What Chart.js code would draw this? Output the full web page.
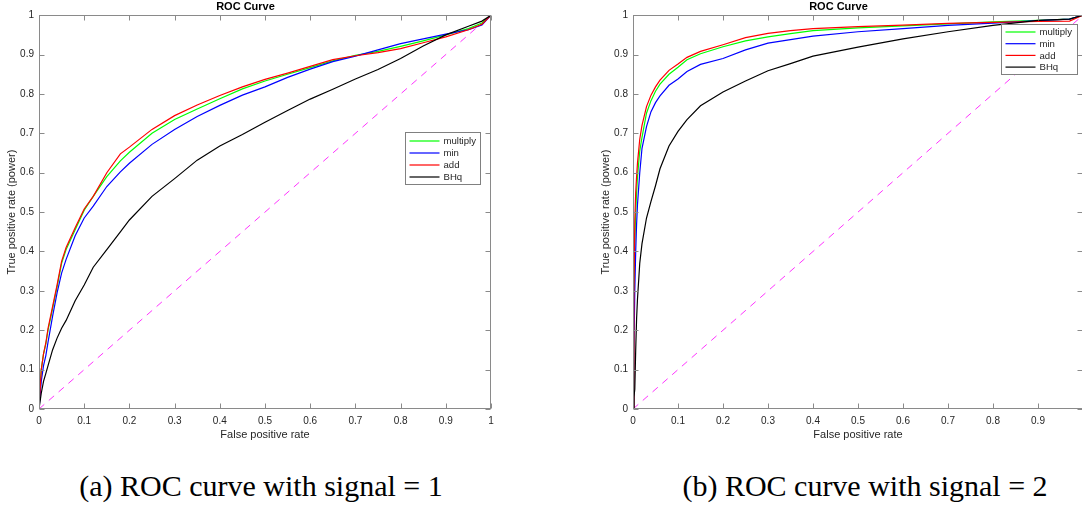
<!DOCTYPE html>
<html><head><meta charset="utf-8">
<script src="https://cdn.jsdelivr.net/npm/chart.js@4.4.1/dist/chart.umd.min.js"></script>
<style>
html,body{margin:0;padding:0;background:#fff;overflow:hidden;width:1082px;height:522px;position:relative;}
.wrap{position:absolute;top:0;height:445px;}
#w1{left:0;width:530px;}
#w2{left:594px;width:528px;}
.cap{position:absolute;top:469px;line-height:34px;font-family:"Liberation Serif","DejaVu Serif",serif;font-size:30px;color:#000;white-space:nowrap;transform:translateX(-50%);}
</style></head><body>
<div id="w1" class="wrap"><canvas id="c1"></canvas></div>
<div id="w2" class="wrap"><canvas id="c2"></canvas></div>
<div class="cap" style="left:261px">(a) ROC curve with signal = 1</div>
<div class="cap" style="left:865px">(b) ROC curve with signal = 2</div>
<script>
// ---- data ----
const seriesNames = ['multiply', 'min', 'add', 'BHq'];
const seriesColors = ['#00ff00', '#0000ff', '#ff0000', '#000000'];
const chanceX = [0, 1];
const chanceY = [0, 1];

// signal = 1
const fpr1 = [0,0.005,0.01,0.015,0.02, 0.03,0.04,0.05,0.06,0.08, 0.1,0.12,0.15,0.18,0.2, 0.25,0.3,0.35,0.4,0.45, 0.5,0.55,0.6,0.65,0.7, 0.75,0.8,0.85,0.9,0.95, 0.98,1];
const tpr1Multiply = [0,0.1,0.14,0.165,0.2, 0.255,0.31,0.37,0.405,0.455, 0.505,0.54,0.59,0.63,0.652, 0.7,0.735,0.762,0.788,0.813, 0.833,0.85,0.867,0.884,0.898, 0.908,0.921,0.935,0.95,0.966, 0.98,1];
const tpr1Min = [0,0.07,0.11,0.135,0.17, 0.235,0.295,0.345,0.38,0.44, 0.485,0.515,0.565,0.602,0.624, 0.672,0.71,0.743,0.771,0.797, 0.818,0.842,0.863,0.882,0.896, 0.912,0.928,0.94,0.952,0.963, 0.975,1];
const tpr1Add = [0,0.1,0.14,0.167,0.205, 0.26,0.315,0.375,0.41,0.46, 0.508,0.54,0.6,0.648,0.665, 0.71,0.745,0.772,0.796,0.818, 0.837,0.853,0.87,0.887,0.897, 0.905,0.915,0.93,0.945,0.963, 0.977,1];
const tpr1BHq = [0,0.04,0.07,0.09,0.11, 0.15,0.18,0.205,0.225,0.275, 0.315,0.36,0.405,0.45,0.48, 0.54,0.585,0.632,0.668,0.697, 0.728,0.758,0.787,0.812,0.838, 0.862,0.89,0.922,0.95,0.972, 0.985,1];

// signal = 2
const fpr2 = [0,0.002,0.004,0.006,0.008, 0.01,0.015,0.02,0.03,0.04, 0.05,0.06,0.08,0.1,0.12, 0.15,0.2,0.25,0.3,0.35, 0.4,0.5,0.6,0.7,0.8, 0.9,0.97,1];
const tpr2Multiply = [0,0.25,0.42,0.5,0.55, 0.59,0.655,0.69,0.751,0.783, 0.807,0.825,0.85,0.868,0.887, 0.902,0.92,0.935,0.945,0.953, 0.961,0.968,0.973,0.978,0.983, 0.987,0.99,1];
const tpr2Min = [0,0.15,0.3,0.4,0.47, 0.52,0.6,0.662,0.717,0.755, 0.778,0.795,0.822,0.838,0.857, 0.875,0.89,0.912,0.929,0.938, 0.947,0.958,0.966,0.974,0.98, 0.986,0.99,1];
const tpr2Add = [0,0.3,0.48,0.55,0.59, 0.625,0.685,0.72,0.768,0.797, 0.818,0.835,0.86,0.876,0.893, 0.908,0.925,0.943,0.954,0.961, 0.966,0.971,0.975,0.979,0.982, 0.984,0.985,1];
const tpr2BHq = [0,0.03,0.05,0.15,0.23, 0.28,0.37,0.42,0.485,0.527, 0.567,0.61,0.668,0.705,0.735, 0.77,0.805,0.833,0.859,0.877, 0.896,0.919,0.94,0.958,0.974, 0.987,0.99,1];

// ---- helpers ----
const pts = (xs, ys) => xs.map((v, i) => ({x: v, y: ys[i]}));
const SANS = '"Liberation Sans", Arial, Helvetica, sans-serif';
const TXT = '#262626';

function buildDatasets(fpr, tprs) {
  const ds = tprs.map((t, i) => ({
    label: seriesNames[i],
    data: pts(fpr, t),
    borderColor: seriesColors[i],
    borderWidth: 1.2,
    pointRadius: 0,
    tension: 0,
    fill: false,
    order: 4 - i
  }));
  ds.push({
    label: 'chance',
    data: pts(chanceX, chanceY),
    borderColor: '#ff33ff',
    borderWidth: 1,
    borderDash: [7, 6],
    pointRadius: 0,
    fill: false,
    order: 10
  });
  return ds;
}

const matlabFrame = {
  id: 'matlabFrame',
  afterDatasetsDraw(chart, args, opts) {
    const {ctx, chartArea: a, scales: {x, y}} = chart;
    ctx.save();
    ctx.strokeStyle = '#8a8a8a';
    ctx.lineWidth = 1;
    const L = Math.round(a.left) + 0.5, R = Math.round(a.right) - 0.5;
    const T = Math.round(a.top) + 0.5, B = Math.round(a.bottom) - 0.5;
    ctx.strokeRect(L, T, R - L, B - T);
    ctx.beginPath();
    x.ticks.forEach(t => {
      const p = Math.round(x.getPixelForValue(t.value)) + 0.5;
      ctx.moveTo(p, B); ctx.lineTo(p, B - 5);
      ctx.moveTo(p, T); ctx.lineTo(p, T + 5);
    });
    y.ticks.forEach(t => {
      const p = Math.round(y.getPixelForValue(t.value)) + 0.5;
      ctx.moveTo(L, p); ctx.lineTo(L + 5, p);
      ctx.moveTo(R, p); ctx.lineTo(R - 5, p);
    });
    ctx.stroke();

    const lg = opts.legend;
    const bx = Math.round(a.right - lg.right - lg.width) + 0.5;
    const by = Math.round(a.top + lg.top) + 0.5;
    ctx.fillStyle = '#fff';
    ctx.fillRect(bx, by, lg.width, lg.height);
    ctx.strokeStyle = '#808080';
    ctx.strokeRect(bx, by, lg.width, lg.height);
    ctx.font = '9.6px ' + SANS;
    ctx.textBaseline = 'middle';
    ctx.textAlign = 'left';
    seriesNames.forEach((name, i) => {
      const yy = by + lg.first + i * lg.gap;
      ctx.strokeStyle = seriesColors[i];
      ctx.lineWidth = 1.2;
      ctx.beginPath();
      ctx.moveTo(bx + 4, yy); ctx.lineTo(bx + 34, yy);
      ctx.stroke();
      ctx.fillStyle = TXT;
      ctx.fillText(name, bx + 38, yy + 0.5);
    });
    ctx.restore();
  }
};

function makeChart(id, fpr, tprs, legendOpts, hideLastX) {
  return new Chart(document.getElementById(id), {
    type: 'line',
    data: {datasets: buildDatasets(fpr, tprs)},
    plugins: [matlabFrame],
    options: {
      responsive: true,
      maintainAspectRatio: false,
      animation: false,
      devicePixelRatio: 1,
      layout: {padding: {left: 0, right: 39, top: 0, bottom: 0}},
      plugins: {
        legend: {display: false},
        tooltip: {enabled: false},
        title: {display: true, text: 'ROC Curve', color: '#000',
                font: {family: SANS, size: 11, weight: 'bold'}, padding: {top: 0, bottom: 2}},
        matlabFrame: {legend: legendOpts}
      },
      scales: {
        x: {
          type: 'linear', min: 0, max: 1,
          afterFit: s => { s.height = 36; },
          grid: {display: false, drawTicks: false},
          border: {display: false},
          ticks: {stepSize: 0.1, padding: 6, color: TXT, font: {family: SANS, size: 10},
                  maxRotation: 0, autoSkip: false,
                  callback: v => (hideLastX && v >= 1) ? '' : String(Math.round(v * 10) / 10)},
          title: {display: true, text: 'False positive rate', color: TXT,
                  font: {family: SANS, size: 11}, padding: {top: 0, bottom: 3}}
        },
        y: {
          type: 'linear', min: 0, max: 1,
          afterFit: s => { s.width = 39; },
          grid: {display: false, drawTicks: false},
          border: {display: false},
          ticks: {stepSize: 0.1, padding: 5, color: TXT, font: {family: SANS, size: 10},
                  autoSkip: false,
                  callback: v => String(Math.round(v * 10) / 10)},
          title: {display: true, text: 'True positive rate (power)', color: TXT,
                  font: {family: SANS, size: 11}, padding: {top: 5, bottom: 0}}
        }
      }
    }
  });
}

makeChart('c1', fpr1, [tpr1Multiply, tpr1Min, tpr1Add, tpr1BHq],
  {right: 11, width: 75, top: 117, height: 52, first: 8.5, gap: 12}, false);
makeChart('c2', fpr2, [tpr2Multiply, tpr2Min, tpr2Add, tpr2BHq],
  {right: 6, width: 76, top: 9, height: 50, first: 7.5, gap: 11.7}, true);
</script>
</body></html>
